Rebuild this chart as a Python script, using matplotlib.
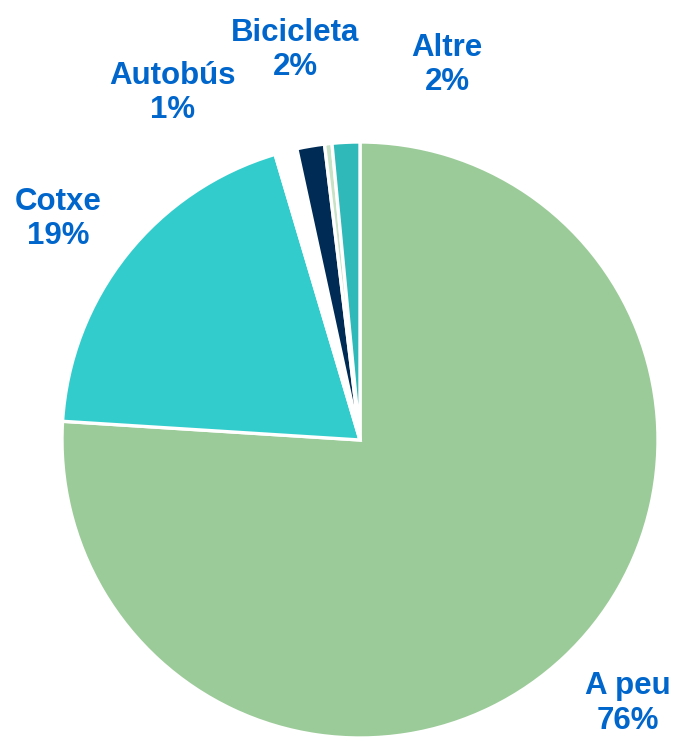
import matplotlib as mpl

mpl.use("Agg")

import matplotlib.pyplot as plt

# share of trips by mode (%)
categories = ["A peu", "Cotxe", "Autobús", "Bicicleta", "Moto", "Altre"]
shares = [76.0, 19.4, 1.2, 1.5, 0.4, 1.5]
label_text = ["A peu\n76%", "Cotxe\n19%", "Autobús\n1%", "Bicicleta\n2%", "", "Altre\n2%"]

COLORS = ["#9BCB98", "#33CCCC", "#FFFFFF", "#002B55", "#C8E2C5", "#2FB9B9"]
LABEL_POS = [(0.899, -0.884), (-1.013, 0.742), (-0.628, 1.165), (-0.218, 1.31), None, (0.292, 1.259)]

plt.rcParams["font.family"] = ["Liberation Sans", "DejaVu Sans"]

fig = plt.figure(figsize=(6.78, 7.37), dpi=100)
ax = fig.add_axes([62 / 678, (737 - 738) / 737, 596 / 678, 596 / 737])

ax.pie(
    shares,
    colors=COLORS,
    startangle=90,
    counterclock=False,
    radius=1.0,
    wedgeprops={"edgecolor": "white", "linewidth": 2.4},
)
ax.set_xlim(-1, 1)
ax.set_ylim(-1, 1)
ax.set_aspect("auto")
ax.axis("off")

for txt, pos in zip(label_text, LABEL_POS):
    if pos is None:
        continue
    ax.text(pos[0], pos[1], txt, ha="center", va="center", fontsize=22.5,
            fontweight="bold", color="#0066CC", linespacing=1.18, clip_on=False)

fig.savefig("out.png", dpi=100)
